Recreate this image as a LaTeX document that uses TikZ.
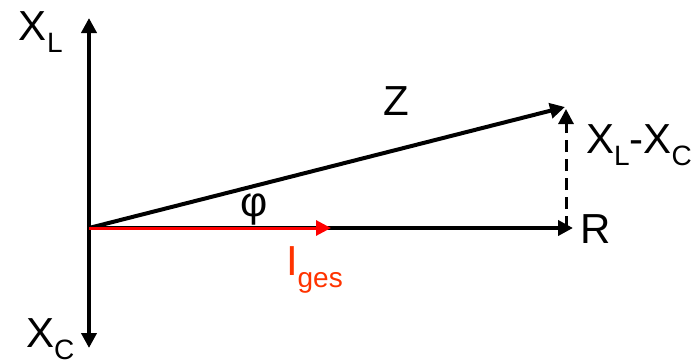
\documentclass[tikz,border=0pt]{standalone}
\usepackage{fontspec}
\setmainfont{Liberation Sans}
\usetikzlibrary{arrows.meta}
\definecolor{igesred}{RGB}{255,51,0}
\newcommand{\lowidx}[1]{\raisebox{-12.5pt}{\fontsize{28}{30}\selectfont #1}}

\begin{document}
\begin{tikzpicture}[x=1pt, y=-1pt, ->, >={Triangle[length=15pt, width=15pt]}, line width=4pt,
    every node/.style={inner sep=0pt, anchor=base west, font=\fontsize{42}{48}\selectfont}]
    \useasboundingbox (0,0) rectangle (694,364);
    \coordinate (O) at (89,228);
    \coordinate (top) at (89,18);
    \coordinate (bot) at (89,348);
    \coordinate (Rend) at (573,228);
    \coordinate (Zend) at (565,107);
    \coordinate (foot) at (566,228);
    \coordinate (head) at (566,109);
    \coordinate (Iend) at (331,228);
    \node (xl) at (17,40) {X\lowidx{L}};
    \node (xc) at (24,347) {X\lowidx{C}};
    \node (z) at (381,115) {Z};
    \node (phi) at (238,216) {φ};
    \node (r) at (578,243) {R};
    \node (xlc) at (584,153) {X\lowidx{L}-X\lowidx{C}};
    \node[text=igesred] (iges) at (284,275) {I\lowidx{ges}};
    \draw (O) -- (top);
    \draw (O) -- (bot);
    \draw (O) -- (Rend);
    \draw (O) -- (Zend);
    \draw[line width=3pt, dash pattern=on 12pt off 7pt] (foot) -- (head);
    \draw[red, line width=3pt] (O) -- (Iend);
  \end{tikzpicture}
\end{document}
